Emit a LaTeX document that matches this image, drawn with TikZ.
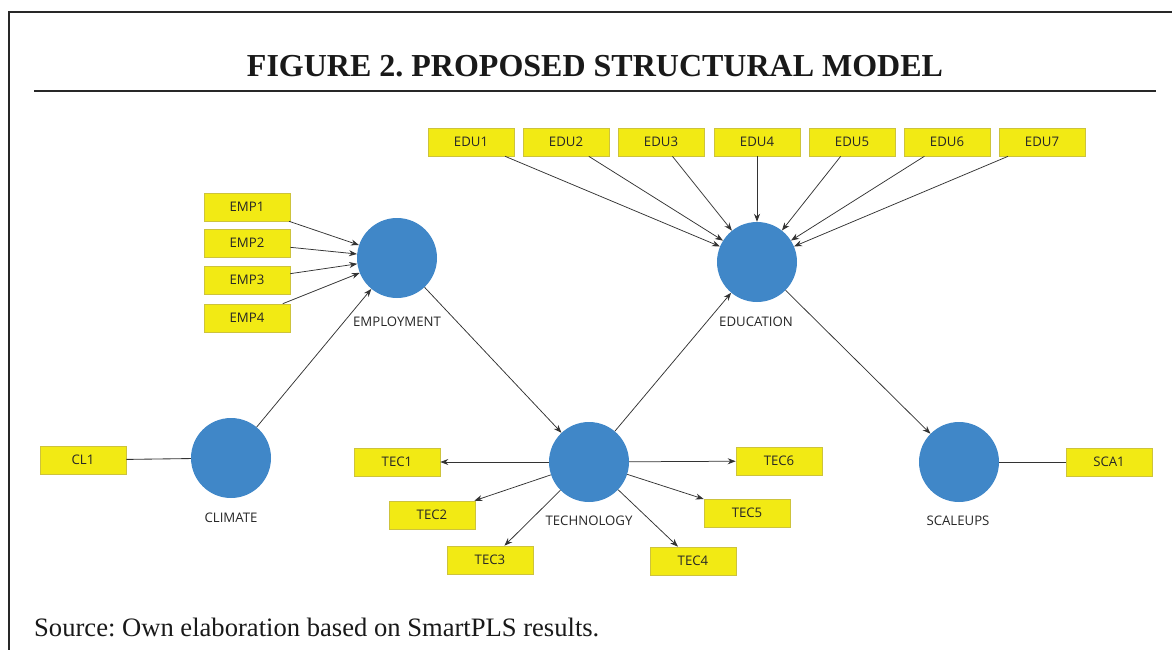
\documentclass[tikz,border=0pt]{standalone}
\usepackage{fontspec}
\setmainfont{Liberation Serif}
\newfontfamily\plsfont{Open Sans}
\usetikzlibrary{arrows.meta}
\frenchspacing
\definecolor{lvblue}{RGB}{64,135,200}
\definecolor{mvyellow}{RGB}{242,234,20}
\definecolor{mvborder}{RGB}{205,195,60}
\definecolor{framegray}{RGB}{40,40,40}
\tikzset{
  latent/.style={circle, fill=lvblue, minimum size=80pt, inner sep=0pt},
  indic/.style={rectangle, fill=mvyellow, draw=mvborder, line width=0.6pt, minimum width=86pt, minimum height=28pt, inner sep=0pt, font=\plsfont\fontsize{13.2}{15}\selectfont, text=black!85},
  lvlabel/.style={font=\plsfont\fontsize{13.2}{15}\selectfont, text=black!85, inner sep=0pt},
  arr/.style={draw=black!80, line width=0.75pt, -{Stealth[length=8pt,width=6pt]}},
  link/.style={draw=black!80, line width=0.85pt},
  rule/.style={draw=framegray, line width=1.3pt}
}
\begin{document}
\begin{tikzpicture}[x=1pt,y=-1pt]
\useasboundingbox (0,0) rectangle (1172,650);
% frame and rules
\coordinate (fbl) at (9,650);
\coordinate (ftl) at (9,12);
\coordinate (ftr) at (1172,12);
\draw[rule] (fbl) -- (ftl) -- (ftr);
\coordinate (rl) at (34,91);
\coordinate (rr) at (1156,91);
\draw[rule] (rl) -- (rr);
\node[anchor=base, inner sep=0pt, font=\fontsize{32}{36}\selectfont\bfseries, text=black!90] (title) at (595,77) {FIGURE 2. PROPOSED STRUCTURAL MODEL};
\node[anchor=base west, inner sep=0pt, font=\fontsize{26.6}{30}\selectfont, text=black!90] (source) at (34,636) {Source: Own elaboration based on SmartPLS results.};

% latent variables
\node[latent] (emp) at (397,258) {};
\node[latent] (edu) at (757,262) {};
\node[latent] (cli) at (231,458) {};
\node[latent] (tec) at (589,462) {};
\node[latent] (sca) at (959,462) {};
\node[lvlabel] (empl) at (397,322) {EMPLOYMENT};
\node[lvlabel] (edul) at (756,322) {EDUCATION};
\node[lvlabel] (clil) at (231,518) {CLIMATE};
\node[lvlabel] (tecl) at (589,521) {TECHNOLOGY};
\node[lvlabel] (scal) at (958,521) {SCALEUPS};

% indicators
\node[indic] (emp1) at (247,207) {EMP1};
\node[indic] (emp2) at (247,243) {EMP2};
\node[indic] (emp3) at (247,280) {EMP3};
\node[indic] (emp4) at (247,318) {EMP4};
\node[indic] (edu1) at (471,142) {EDU1};
\node[indic] (edu2) at (566,142) {EDU2};
\node[indic] (edu3) at (661,142) {EDU3};
\node[indic] (edu4) at (757,142) {EDU4};
\node[indic] (edu5) at (852,142) {EDU5};
\node[indic] (edu6) at (947,142) {EDU6};
\node[indic] (edu7) at (1042,142) {EDU7};
\node[indic] (tec1) at (397,462) {TEC1};
\node[indic] (tec2) at (432,515) {TEC2};
\node[indic] (tec3) at (490,560) {TEC3};
\node[indic] (tec4) at (693,561) {TEC4};
\node[indic] (tec5) at (747,513) {TEC5};
\node[indic] (tec6) at (779,461) {TEC6};
\node[indic] (cl1) at (83,460) {CL1};
\node[indic] (sca1) at (1109,462) {SCA1};

% connectors
\foreach \i in {1,2,3,4} \draw[arr] (emp\i) -- (emp);
\foreach \i in {1,...,7} \draw[arr] (edu\i) -- (edu);
\foreach \i in {1,...,6} \draw[arr] (tec) -- (tec\i);
\draw[link] (cl1) -- (cli);
\draw[link] (sca) -- (sca1);
\draw[arr] (cli) -- (emp);
\draw[arr] (emp) -- (tec);
\draw[arr] (tec) -- (edu);
\draw[arr] (edu) -- (sca);
\end{tikzpicture}
\end{document}
